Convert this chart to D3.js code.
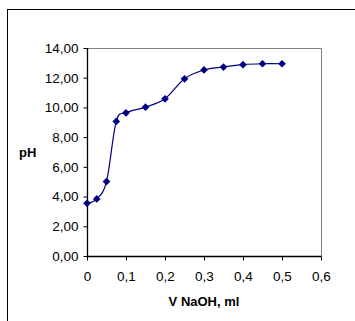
<!DOCTYPE html>
<html>
<head>
<meta charset="utf-8">
<script src="https://cdn.jsdelivr.net/npm/d3@7/dist/d3.min.js"></script>
<style>
  html, body { margin: 0; padding: 0; background: #fff; }
  svg { display: block; }
  text { font-family: "Liberation Sans", Arial, sans-serif; fill: #000; }
</style>
</head>
<body>
<svg id="chart" width="355" height="321"></svg>
<script>
// Titration curve: volume of NaOH added (ml) vs. pH
const volumes = [0, 0.025, 0.05, 0.075, 0.1, 0.15, 0.2, 0.25, 0.3, 0.35, 0.4, 0.45, 0.5];
const phValues = [3.55, 3.84, 5.01, 9.06, 9.64, 10.02, 10.58, 11.93, 12.52, 12.72, 12.88, 12.94, 12.94];

const xTicks = [0, 0.1, 0.2, 0.3, 0.4, 0.5, 0.6];
const yTicks = [0, 2, 4, 6, 8, 10, 12, 14];

const xTitle = "V NaOH, ml";
const yTitle = "pH";

const svg = d3.select("#chart");
const W = 355, H = 321;

// outer chart frame (runs off the right and bottom edges)
svg.append("rect")
  .attr("x", 7.5).attr("y", 9.5)
  .attr("width", W).attr("height", H)
  .attr("fill", "none").attr("stroke", "#000").attr("stroke-width", 1);

const plot = { left: 87, top: 48, right: 321, bottom: 256 };

const x = d3.scaleLinear().domain([0, 0.6]).range([plot.left, plot.right]);
const y = d3.scaleLinear().domain([0, 14]).range([plot.bottom, plot.top]);

const comma = v => v.toString().replace(".", ",");

// plot area border (top / right in grey)
svg.append("path")
  .attr("d", `M${plot.left},${plot.top + 0.5}H${plot.right + 0.5}V${plot.bottom}`)
  .attr("fill", "none").attr("stroke", "#808080").attr("stroke-width", 1);

// y axis
const yAxis = svg.append("g")
  .attr("transform", `translate(${plot.left + 0.5},0)`)
  .call(d3.axisLeft(y).tickValues(yTicks).tickSize(4).tickPadding(5)
    .tickFormat(d => d3.format(".2f")(d).replace(".", ",")));

// x axis
const xAxis = svg.append("g")
  .attr("transform", `translate(0,${plot.bottom + 0.5})`)
  .call(d3.axisBottom(x).tickValues(xTicks).tickSize(4).tickPadding(11)
    .tickFormat(d => comma(d)));

[yAxis, xAxis].forEach(g => {
  g.select(".domain").attr("stroke", "#000").attr("stroke-width", 1.3);
  g.selectAll(".tick line").attr("stroke", "#000");
  g.selectAll(".tick text")
    .attr("font-family", "'Liberation Sans', Arial, sans-serif")
    .attr("font-size", 13.5).attr("fill", "#000");
});
yAxis.select(".domain").attr("d", `M0,${plot.top}V${plot.bottom}`);
xAxis.select(".domain").attr("d", `M${plot.left},0H${plot.right + 0.5}`);

// axis titles
svg.append("text")
  .attr("x", 204).attr("y", 306)
  .attr("text-anchor", "middle")
  .attr("font-size", 13).attr("font-weight", "bold")
  .text(xTitle);

svg.append("text")
  .attr("x", 19).attr("y", 157)
  .attr("font-size", 13).attr("font-weight", "bold")
  .text(yTitle);

// smoothed titration curve
const pts = volumes.map((v, i) => [v, phValues[i]]);
const line = d3.line()
  .x(d => x(d[0])).y(d => y(d[1]))
  .curve(d3.curveCardinal.tension(0));

svg.append("path")
  .datum(pts)
  .attr("d", line)
  .attr("fill", "none")
  .attr("stroke", "#000080")
  .attr("stroke-width", 1.2);

// diamond markers
const diamond = d3.symbol().type(d3.symbolSquare).size(30);
svg.append("g").selectAll("path")
  .data(pts)
  .join("path")
  .attr("d", diamond)
  .attr("transform", d => `translate(${x(d[0])},${y(d[1])}) rotate(45)`)
  .attr("fill", "#000080");
</script>
</body>
</html>
